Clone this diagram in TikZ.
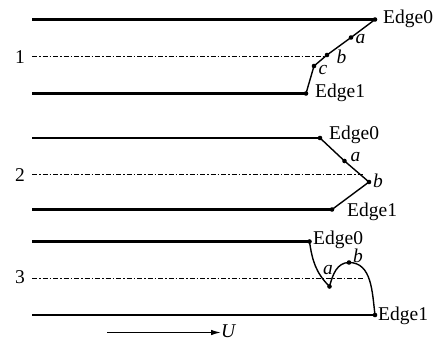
\documentclass[tikz,border=0pt]{standalone}
\usepackage{fontspec}
\setmainfont{Liberation Serif}
\usetikzlibrary{arrows.meta}
\begin{document}
\begin{tikzpicture}[x=1pt,y=-1pt,
  wall/.style={line width=2.3pt},
  axisline/.style={line width=1.5pt,dash pattern=on 5pt off 2pt on 1.5pt off 2pt},
  seg/.style={line width=1.4pt},
  lbl/.style={inner sep=0pt,font=\fontsize{19.5}{22}\selectfont},
  ilbl/.style={inner sep=0pt,font=\fontsize{19.5}{22}\selectfont\itshape},
  dot/.style={circle,fill=black,inner sep=0pt,minimum size=4.6pt}]
\useasboundingbox (0,0) rectangle (439,342);
% ---------- panel 1
\node[dot] (e01) at (375,19.5) {};
\node[dot] (a1) at (351,37.5) {};
\node[dot] (b1) at (327,55) {};
\node[dot] (c1) at (314,66) {};
\node[dot] (e11) at (306,93.5) {};
\coordinate (t1) at (32,19.5);
\coordinate (m1) at (32,56.5);
\coordinate (d1) at (32,93.5);
\draw[wall] (t1) -- (e01.center);
\draw[wall] (d1) -- (e11.center);
\draw[axisline] (m1) -- (b1.west |- m1);
\draw[seg] (e01.center) -- (a1.center) -- (b1.center) -- (c1.center) -- (e11.center);
\node[lbl,anchor=west] at (383,19) {Edge0};
\node[ilbl] at (360.5,39.5) {a};
\node[ilbl] at (341.5,57) {b};
\node[ilbl] at (323,70) {c};
\node[lbl,anchor=west] at (315,93) {Edge1};
\node[lbl] at (20,57) {1};
% ---------- panel 2
\node[dot] (e02) at (320,138) {};
\node[dot] (a2) at (344.5,161) {};
\node[dot] (b2) at (369,182) {};
\node[dot] (e12) at (332,209.5) {};
\coordinate (t2) at (32,138);
\coordinate (m2) at (32,174.5);
\coordinate (d2) at (32,209.5);
\coordinate (m2e) at (363,174.5);
\draw[wall] (t2) -- (e02.center);
\draw[wall] (d2) -- (e12.center);
\draw[axisline] (m2) -- (m2e);
\draw[seg] (e02.center) -- (a2.center) -- (b2.center) -- (e12.center);
\node[lbl,anchor=west] at (329,135) {Edge0};
\node[ilbl] at (355.5,157.5) {a};
\node[ilbl] at (378,181) {b};
\node[lbl,anchor=west] at (347,212) {Edge1};
\node[lbl] at (20,175) {2};
% ---------- panel 3
\node[dot] (e03) at (309.5,241.5) {};
\node[dot] (a3) at (329.5,286.5) {};
\node[dot] (b3) at (349,262.5) {};
\node[dot] (e13) at (375,315) {};
\coordinate (t3) at (32,241.5);
\coordinate (m3) at (32,278.5);
\coordinate (d3) at (32,315);
\coordinate (m3e) at (363,278.5);
\draw[wall] (t3) -- (e03.center);
\draw[wall] (d3) -- (e13.center);
\draw[axisline] (m3) -- (m3e);
\draw[seg] (e03.center) to[out=-82,in=135] (a3.center)
  to[out=75,in=180] (b3.center) to[out=0,in=97] (e13.center);
\node[lbl,anchor=west] at (313,240) {Edge0};
\node[ilbl] at (328,270) {a};
\node[ilbl] at (358,256) {b};
\node[lbl,anchor=west] at (378,315.5) {Edge1};
\node[lbl] at (20,277) {3};
% ---------- flow arrow
\coordinate (u0) at (107,332.5);
\node[ilbl,anchor=west] (U) at (221,331) {U};
\draw[line width=1.2pt,-{Latex[length=10pt,width=5.5pt]}] (u0) -- (U.west |- u0);
\end{tikzpicture}
\end{document}
